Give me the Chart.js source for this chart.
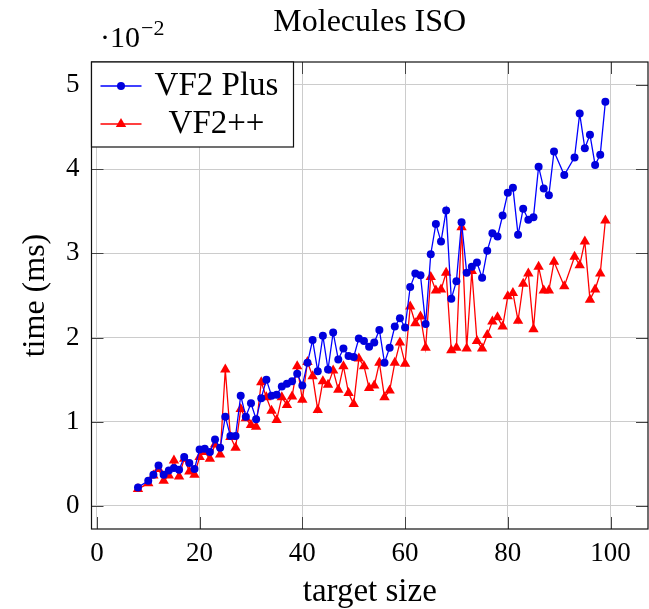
<!DOCTYPE html>
<html>
<head>
<meta charset="utf-8">
<script src="https://cdn.jsdelivr.net/npm/chart.js@4.4.1/dist/chart.umd.min.js"></script>
<style>
  html, body { margin: 0; padding: 0; background: #fff; }
  canvas { display: block; }
</style>
</head>
<body>
<canvas id="grafico" width="649" height="609"></canvas>
<script>
// Dados (tempo em ms, escala 10^-2)
const targetSize = [
  8, 10, 11, 12, 13, 14, 15, 16, 17, 18, 19,
  20, 21, 22, 23, 24, 25, 26, 27, 28, 29,
  30, 31, 32, 33, 34, 35, 36, 37, 38, 39,
  40, 41, 42, 43, 44, 45, 46, 47, 48, 49,
  50, 51, 52, 53, 54, 55, 56, 57, 58, 59,
  60, 61, 62, 63, 64, 65, 66, 67, 68, 69,
  70, 71, 72, 73, 74, 75, 76, 77, 78, 79,
  80, 81, 82, 83, 84, 85, 86, 87, 88, 89,
  91, 93, 94, 95, 96, 97, 98, 99
];
const vf2Plus = [
  0.22, 0.30, 0.37, 0.48, 0.37, 0.42, 0.45, 0.43, 0.58, 0.51, 0.44,
  0.67, 0.68, 0.64, 0.79, 0.69, 1.06, 0.83, 0.83, 1.31, 1.06,
  1.22, 1.03, 1.28, 1.50, 1.31, 1.32, 1.42, 1.45, 1.48, 1.57,
  1.43, 1.70, 1.97, 1.60, 2.02, 1.62, 2.06, 1.74, 1.87, 1.78,
  1.77, 1.99, 1.96, 1.89, 1.94, 2.09, 1.70, 1.88, 2.13, 2.23,
  2.12, 2.60, 2.76, 2.74, 2.16, 2.99, 3.35, 3.14, 3.51, 2.46,
  2.67, 3.37, 2.77, 2.84, 2.89, 2.71, 3.03, 3.24, 3.20, 3.45,
  3.72, 3.78, 3.22, 3.53, 3.40, 3.43, 4.03, 3.77, 3.69, 4.21,
  3.93, 4.14, 4.66, 4.25, 4.41, 4.05, 4.17, 4.80
];
const vf2pp = [
  0.20, 0.27, 0.36, 0.44, 0.30, 0.36, 0.54, 0.35, 0.56, 0.41, 0.37,
  0.58, 0.64, 0.56, 0.73, 0.61, 1.62, 0.82, 0.69, 1.15, 1.04,
  0.96, 0.94, 1.47, 1.29, 1.13, 1.02, 1.29, 1.20, 1.30, 1.66,
  1.26, 1.71, 1.54, 1.14, 1.48, 1.44, 1.61, 1.38, 1.66, 1.34,
  1.21, 1.75, 1.66, 1.40, 1.43, 1.70, 1.29, 1.37, 1.70, 1.94,
  1.69, 2.37, 2.17, 2.25, 1.88, 2.72, 2.56, 2.57, 2.77, 1.85,
  1.88, 3.31, 1.87, 2.79, 1.96, 1.87, 2.03, 2.19, 2.24, 2.13,
  2.49, 2.53, 2.20, 2.64, 2.76, 2.10, 2.84, 2.56, 2.56, 2.90,
  2.61, 2.96, 2.86, 3.14, 2.45, 2.57, 2.76, 3.39
];
const xTicks = [0, 20, 40, 60, 80, 100];
const yTicks = [0, 1, 2, 3, 4, 5];

const SERIF = '"Liberation Serif", "Times New Roman", serif';
const AZUL = '#0000ff';
const VERMELHO = '#ff0000';

// Moldura, marcas, legenda e título (estilo pgfplots)
const decoracao = {
  id: 'decoracao',
  afterDraw(chart) {
    const ctx = chart.ctx;
    const a = chart.chartArea;
    const sx = chart.scales.x;
    const sy = chart.scales.y;
    ctx.save();

    // marcas dos eixos
    ctx.strokeStyle = '#444';
    ctx.lineWidth = 1;
    ctx.beginPath();
    xTicks.forEach(v => {
      const px = Math.round(sx.getPixelForValue(v)) + 0.5;
      ctx.moveTo(px, a.bottom); ctx.lineTo(px, a.bottom - 12);
      ctx.moveTo(px, a.top); ctx.lineTo(px, a.top + 12);
    });
    yTicks.forEach(v => {
      const py = Math.round(sy.getPixelForValue(v)) + 0.5;
      ctx.moveTo(a.left, py); ctx.lineTo(a.left + 12, py);
      ctx.moveTo(a.right, py); ctx.lineTo(a.right - 12, py);
    });
    ctx.stroke();

    // moldura
    ctx.strokeStyle = '#111';
    ctx.lineWidth = 1.2;
    ctx.strokeRect(a.left, a.top, a.right - a.left, a.bottom - a.top);

    // legenda
    const lx = a.left, ly = a.top;
    ctx.fillStyle = '#fff';
    ctx.fillRect(lx, ly, 202, 85);
    ctx.strokeStyle = '#111';
    ctx.lineWidth = 1.2;
    ctx.strokeRect(lx, ly, 202, 85);

    const y1 = ly + 24, y2 = ly + 62;
    ctx.lineWidth = 1.3;
    ctx.strokeStyle = AZUL;
    ctx.beginPath(); ctx.moveTo(lx + 9, y1); ctx.lineTo(lx + 50, y1); ctx.stroke();
    ctx.fillStyle = '#0000dd';
    ctx.beginPath(); ctx.arc(lx + 29.5, y1, 4, 0, Math.PI * 2); ctx.fill();

    ctx.strokeStyle = VERMELHO;
    ctx.beginPath(); ctx.moveTo(lx + 9, y2); ctx.lineTo(lx + 50, y2); ctx.stroke();
    ctx.fillStyle = VERMELHO;
    const r = 6, cx = lx + 29.5;
    ctx.beginPath();
    ctx.moveTo(cx, y2 - r);
    ctx.lineTo(cx + r * Math.sin(2 * Math.PI / 3), y2 + r / 2);
    ctx.lineTo(cx - r * Math.sin(2 * Math.PI / 3), y2 + r / 2);
    ctx.closePath(); ctx.fill();

    ctx.fillStyle = '#000';
    ctx.textAlign = 'center';
    ctx.textBaseline = 'middle';
    ctx.font = '33px ' + SERIF;
    ctx.fillText('VF2 Plus', lx + 125, y1);
    ctx.fillText('VF2++', lx + 125, y2);

    // título
    ctx.font = '32px ' + SERIF;
    ctx.fillText('Molecules ISO', (a.left + a.right) / 2, 23);

    // fator de escala
    ctx.textAlign = 'left';
    ctx.textBaseline = 'alphabetic';
    ctx.font = '30px ' + SERIF;
    ctx.fillText('\u00b710', 100, 47);
    const w = ctx.measureText('\u00b710').width;
    ctx.font = '22px ' + SERIF;
    ctx.fillText('\u22122', 100 + w + 1, 35);

    ctx.restore();
  }
};

const ctx = document.getElementById('grafico').getContext('2d');
const grafico = new Chart(ctx, {
  type: 'line',
  data: {
    datasets: [
      {
        label: 'VF2 Plus',
        data: targetSize.map((x, i) => ({ x, y: vf2Plus[i] })),
        borderColor: AZUL,
        backgroundColor: '#0000dd',
        borderWidth: 1.3,
        pointStyle: 'circle',
        pointRadius: 4,
        pointBorderWidth: 0,
        pointBackgroundColor: '#0000dd',
        tension: 0
      },
      {
        label: 'VF2++',
        data: targetSize.map((x, i) => ({ x, y: vf2pp[i] })),
        borderColor: VERMELHO,
        backgroundColor: VERMELHO,
        borderWidth: 1.3,
        pointStyle: 'triangle',
        pointRadius: 6,
        pointBorderWidth: 0,
        pointBackgroundColor: VERMELHO,
        tension: 0
      }
    ]
  },
  options: {
    responsive: false,
    animation: false,
    devicePixelRatio: 1,
    layout: { autoPadding: false, padding: { top: 62, right: 1, left: 0, bottom: 0 } },
    plugins: {
      legend: { display: false },
      tooltip: { enabled: false },
      title: { display: false }
    },
    scales: {
      x: {
        type: 'linear',
        min: -1.05,
        max: 107.3,
        afterBuildTicks: s => { s.ticks = xTicks.map(v => ({ value: v })); },
        afterFit: s => { s.height = 80; s.paddingLeft = 0; s.paddingRight = 0; },
        grid: { color: '#cccccc', lineWidth: 1, drawTicks: false },
        border: { display: false },
        ticks: {
          padding: 9,
          maxRotation: 0,
          color: '#000',
          font: { family: SERIF, size: 27 }
        },
        title: {
          display: true,
          text: 'target size',
          color: '#000',
          font: { family: SERIF, size: 33, lineHeight: 1 },
          padding: { top: 0, bottom: 0 }
        }
      },
      y: {
        min: -0.274,
        max: 5.273,
        afterBuildTicks: s => { s.ticks = yTicks.map(v => ({ value: v })); },
        afterFit: s => { s.width = 91.5; s.paddingTop = 0; s.paddingBottom = 0; },
        grid: { color: '#cccccc', lineWidth: 1, drawTicks: false },
        border: { display: false },
        ticks: {
          padding: 12,
          color: '#000',
          font: { family: SERIF, size: 27 }
        },
        title: {
          display: true,
          text: 'time (ms)',
          color: '#000',
          font: { family: SERIF, size: 32, lineHeight: 1.2 },
          padding: { top: 16, bottom: 0 }
        }
      }
    }
  },
  plugins: [decoracao]
});
</script>
</body>
</html>
